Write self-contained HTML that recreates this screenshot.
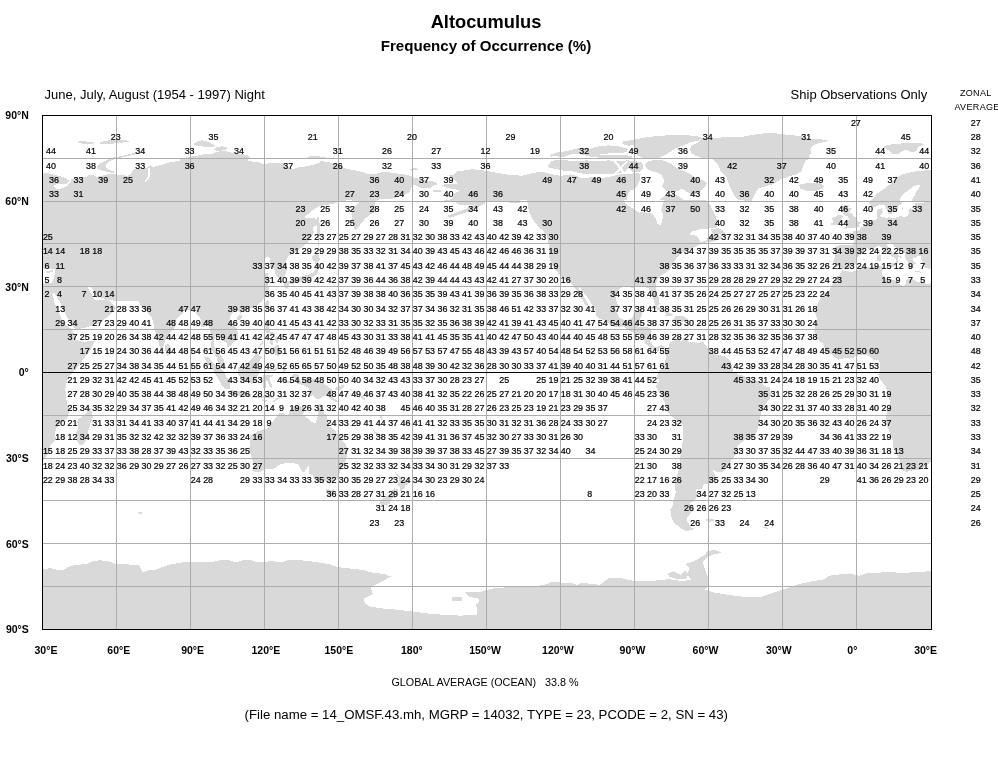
<!DOCTYPE html>
<html><head><meta charset="utf-8"><title>Altocumulus</title>
<style>
html,body{margin:0;padding:0;background:#fff}
body{filter:grayscale(1);width:998px;height:760px;position:relative;overflow:hidden;font-family:"Liberation Sans",sans-serif;color:#000}
div{position:absolute;white-space:nowrap;line-height:1}
.ax{font-weight:bold;font-size:10.5px}
.t1{font-weight:bold;font-size:18.3px;left:0;width:972px;text-align:center;top:13.3px}
.t2{font-weight:bold;font-size:15.1px;left:0;width:972px;text-align:center;top:38.3px}
.s{font-size:13px}
.z{font-size:9px;width:60px;text-align:center;left:945.4px}
</style></head><body>
<svg width="998" height="760" viewBox="0 0 998 760" style="position:absolute;left:0;top:0"><path d="M42.6 461.6L46.3 456.7L49.5 451L50 445.3L56.2 439.6L54.9 433.9L56.2 428.2L61.1 422.5L67.3 418.2L69 412.5L68.6 406.1L67.4 406.1L66.7 401L66 395.4L65.3 389.8L66 384.2L68.1 378.6L70.9 374.3L75.1 370.1L79.3 364.5L83.5 358.9L89.1 351.9L93.3 344.9L95.4 340.4L89.1 341.4L82.1 341.8L76.5 340L74.4 335.1L72.5 330.6L70.2 328.1L63.8 324L58.2 311.2L53.3 300L54.5 300L52.1 294.5L51.9 293.8L54.7 293.1L58.2 299.4L58.4 300L58.9 300L64.5 311.9L70.9 324L75.8 329.7L79.3 328.8L86.3 327.4L93.3 325.3L100.3 322.4L105.9 318.2L110.1 314L114.3 310.5L116.5 307.7L112.9 304.2L108.7 300L107.4 300L107.1 299.1L110.1 300L112.9 300L112.9 300.7L138.2 300.7L138.2 300L141 305.6L146.6 311.2L152.2 318.2L153.6 324L153.6 328.8L154.8 328.8L155.7 332.3L157.8 339.3L159.5 346.3L160.4 349.8L162.7 348.4L164.8 342.1L167 336.5L170.5 332.3L174.7 328.1L175 327.8L175 321.2L175.8 320.2L179.5 316.2L182.7 313.4L183.2 311.1L185.7 310.8L190.6 309.7L194.3 308.2L196.3 313.4L199.7 316.8L201.7 322.5L201.2 326.8L204.2 327.4L207.9 324.5L209.6 328.2L210.8 333.9L211.8 339.7L211.1 345.4L211.1 349.7L214 353.1L216.3 356.8L218.5 363.9L221.4 366.8L223.9 368.5L225.6 368.2L223.9 363.9L223.7 359.6L220.9 354.8L217.7 352.8L216 348.2L213.5 345.9L214 341.1L215.3 335.9L216.7 333.9L217.7 336.2L220.9 337.7L222.7 341.1L226.4 342.5L227.6 346.8L227.8 347.9L231.8 344.5L233 342.5L237.5 339.7L238.2 335.4L237.2 328.8L233.8 324.8L231.3 321.7L229.6 318.2L231.8 313.4L235 310.8L239.2 311.1L240.7 314.5L241.2 311.7L244.9 310.2L248.6 308.8L252.3 307.7L257.2 305.4L261.4 301.7L263.9 298.3L264.9 296L265.1 296L267.7 293.8L268.7 289.6L269 289.1L268.9 288.7L269.1 288.1L268.8 288L268.3 286L268.3 272.6L264.3 272.6L263.9 265.7L264.9 258L267.7 256.6L269.8 258L270 258L270 267.2L274.2 268.6L275.6 274.2L278.4 278.4L282.6 277.7L285.7 274.2L287.1 268.6L285.7 261.5L288.2 256.2L292.4 253.4L298.1 250.3L303.7 246.1L308.2 241.9L311 237.7L313.8 232.1L312.8 226.8L316.3 225.8L317.4 223.4L317.4 232.1L317.7 246.1L319.1 246.1L319.7 232.1L319.4 217.4L317.4 217.4L317.4 221.1L316.3 218.8L310.7 217.8L304.8 218.1L305.1 216L309.3 213.1L313.5 209.6L317.7 206.8L323.3 205.4L331.7 204L338.7 202.1L342.9 200.9L348.6 200.1L359.8 201.5L354.2 206.8L351.4 213.8L352.1 220.9L353.9 227.9L355.3 230L356.7 229L361.2 223.7L365.4 218.1L371 214.1L376.6 211L374.5 201.9L378.9 199.3L390.2 199L401.3 196.2L410 192L410 191.3L411.2 187.8L412.6 184.9L416.8 185.6L421 188.5L428 187.8L428.3 187.6L430.5 188.1L432.3 186L437.5 184.2L436.9 183.6L437.1 183.5L436.6 183.4L435.1 182.1L430.5 181L428.7 181.3L426.6 180.7L421 179.3L415.4 177.9L409.8 175.8L404.2 174.4L398.6 173.7L392.9 173L387.3 172L381.7 172.3L376.1 173.7L367.7 173.7L362.1 172L355.1 170.2L348.1 169.2L342.4 167.4L338.2 165.3L331.2 162.8L325.6 161.8L320 160.8L320 162.8L316.1 163.9L311.9 165L307.7 166L302 167L296.4 167.8L293.6 169.2L290.8 168.1L286.6 165.3L281 162.8L275.4 162.5L269.8 163.2L264.2 164.2L258.6 162.5L252.9 161.8L247.3 160.4L250.1 158.3L249.4 156.2L245.9 154.8L240.3 154.1L233.3 153.4L227.7 151.6L222.1 151L216.5 152L212.3 153.8L205.3 154.1L198.2 155.5L191.2 156.6L185.6 157.6L180 158.6L180 161.1L171.9 161.8L167 163.2L162 165L156.4 166L153.6 167.4L150.8 165.3L148.7 166L146.6 167.8L141 168.8L136.8 168.1L133.3 170.2L131.2 173.7L127 175.8L121.4 175.1L116.5 174.4L112.9 173.7L107.3 174.4L101.7 175.8L96.1 176.8L93.3 175.1L88.4 174.8L86.3 176.8L82.1 177.2L76.5 177.9L71.6 179.1L68.1 180.7L65.3 177.9L59.6 176.2L54 174.8L48.4 173.4L42.5 172.9L42.5 269.2L48.4 269.2L55.4 268.5L54.7 274.1L53.3 279.7L51.2 283.2L48.3 283.4L48.3 283.4L45.1 282.5L42.5 283.3L42.5 461.7ZM103.1 298L105.8 300L94.4 300L94 299.4L91.2 293.8L87.7 287.4L90.5 287L94 290.9L96.1 296.6ZM150.3 173.7L149.4 177.9L146.6 181.4L144.1 182.4L147.3 177.9L148.3 173.7L148 168.1L149.7 168.1ZM66.9 186.3L61 188.5L56.8 189.2L54 187.1L54.7 184.9L59.6 183.8L66 184.2L68.8 181.4L71.6 179.6L70.2 182.1ZM880.5 363.9L880 369.6L878.3 374.5L880 379.6L885 385.4L887 389.6L889.2 398.2L890.4 405.3L887.4 411.1L885.7 418.2L886.2 423.9L889.9 432.5L892.4 439.6L893.6 448.2L896.6 453.9L899.3 459.6L901 465.3L902.2 470.2L905.9 471.9L913.3 470.2L920 469.6L925.7 466.7L930.6 461.6L931.5 460.4L931.5 283L928.1 284L920.7 282.5L915.8 281.1L910.9 278.6L905.9 279.7L905.9 284L903.5 286L898.5 284L894.4 280.3L888.7 278.6L885 277.7L882.5 275.4L881.8 271.1L883.7 267.4L881.3 266L873.9 266.8L864 267.4L856.6 270.3L851.7 272L842.1 270.3L839.8 274.8L835.6 277.4L832.7 282.5L831.9 286.8L828.2 291.1L824.5 293.4L820.1 298.3L817.1 305.4L814.7 312.5L817.1 318.2L815.9 325.4L813.7 330.5L815.2 332.5L815.4 336.8L819.6 341.1L823.3 343.9L824.5 348.2L828.2 352.5L833.2 355.4L838.1 359.9L845.5 357.7L851.7 358.5L856.6 355.9L861.5 354.5L867.2 354.5L870.2 356.8L873.9 359.9L878.8 360.5ZM654.3 308.5L658 309.7L663 311.1L666.2 313.7L664.9 316L671.6 315.7L673.6 314.8L670.4 313.4L666.7 310.8L661.7 308.5L656.8 306.3L651.9 306.8L647.2 310L650.6 309.1ZM681.5 322L685.2 320.2L687.9 319.4L684.2 316.5L679.7 316L675.8 315.7L673.1 320L675.3 320.5L679 320.5ZM694.3 321.1L694.5 320L690.8 319.7L690.8 321.1ZM668.4 320.5L663.5 320L663.7 321.1L667.9 321.4ZM651.9 343.9L650.1 341.1L650.6 335.4L651.1 329.7L648.2 327.4L644.5 327.1L639.5 327.4L637.6 326.8L638.8 322.5L640 320.2L640.8 316.8L642.5 314L642 311.1L638.3 311.1L633.9 312.5L633.4 314L632.1 318.2L629.7 319.4L624.7 320.5L622.3 319.4L619.1 317.4L616.6 312.5L615.4 308.2L615.6 306.1L618.2 306.1L616.8 302.4L615.4 296.8L616.8 291.2L621 287.7L626.6 286.3L632.2 287.7L639.2 286.7L640 286.8L640 287L648.4 287.7L650.5 292.6L652.9 298.2L654.7 303.1L655.7 306.1L658 306.1L659.6 303.8L658.9 298.2L656.8 292.6L655.4 287L655.7 284.2L657.5 279.3L661 275.8L665.3 272.9L669.5 270.1L672.3 264.5L675.1 260.3L677.9 256.1L682.1 253.3L686.3 250.5L691.9 248.4L696.1 246.3L701.7 243.5L707.3 242.1L710.1 242.1L715.8 240.7L722.1 238.6L720.7 235.8L714.3 235.1L708 236.8L705.9 240.7L700.3 242.1L698.9 237.9L694.7 235.1L689.1 234.4L691.9 231.6L698.9 229.5L707.3 228.8L716.5 227.4L717.9 222.4L715.8 216.8L712.9 211.2L710.1 204.2L705.9 200L683.4 200L683 199.7L678.6 196.2L672.9 194.1L665.9 194.8L660.3 199L660 200L660 200L663.8 200L662.4 205.6L661 210.5L663.1 213.3L662.4 219.6L661 225.3L657.5 223.8L655.4 218.2L652.6 214L647 212.6L640 211.9L640 212.9L639.2 212.9L626.6 204.2L623.8 200L626.4 200L628.1 193.4L630.2 190.6L635.1 188.5L637.9 184.9L640 179.3L640.7 173.7L635.1 173L628.8 174.4L619.6 174.4L614 175.8L608.4 177.2L600 177.9L591.9 177.2L586.3 177.9L580.6 177.9L576.4 175.8L570.8 174.4L566.6 175.1L561 175.8L555.4 175.1L549.8 173.7L544.2 172.3L538.6 172L532.9 173L527.3 174.4L521.7 175.8L516.1 175.1L509.1 174.8L502.1 173.7L495.1 172.6L486.7 170.9L478.2 169.8L472.6 169.2L465.6 170.2L460 171.6L460 205L474 204.6L476.3 204.1L467 208.5L447 216L449 218L470 211L486 203L484.5 202L488.1 201.8L509.1 202.5L520 203.1L520 200L527 200L528.4 208.4L529.8 214L534 221L538.2 226.7L542.4 230.2L546.7 235.1L548.1 242.1L549.5 247.7L548.8 254.7L550.2 260.3L553.7 267.3L557.9 272.9L560.7 276.5L566.3 280.7L571.9 283.9L576.1 289.8L580.3 296.8L584.5 303.8L585.9 306.1L588.7 306.1L587.3 302.4L583.1 295.4L578.9 288.7L577.8 285.3L581.7 289.8L585.9 295.4L590.1 301L592.9 306.1L593.3 306.1L596.4 311.1L596.4 315.4L598.8 318.2L605 321.1L609.9 324L614.9 326.8L619.8 327.7L623.5 326.2L627.2 329.7L629.7 331.1L634.6 333.4L639.5 334.8L640.8 335.7L644.5 339.7L645.2 343.9L647.4 344.8L650.1 347.7L651.9 349.1L655.6 351.1L658 351.7L659.3 348.8L660.5 346.8L663 349.1L665.4 351.1L665.9 348.2L664.2 346.8L661.7 345.4L659.8 345.4L656.8 347.4L653.6 346.2ZM84.5 415.3L79.6 418.2L77.1 421L78.4 428.2L75.4 433.9L76.4 439.6L79.6 445.3L83.3 444.5L85.8 441L88.2 431L90.7 422.5L93.2 416.8L90.2 406.8L88.2 410.2ZM679 469.6L677 475.3L675.3 481L674.8 486.7L675.8 492.4L674.1 498.1L672.8 505.3L670.4 509.6L670.9 515.3L672.8 521L676.5 524.7L680.2 527.6L683.9 530.4L687.6 530.7L692.6 529.8L695.8 528.7L691.3 528.1L688.4 523.3L687.6 521.8L686.4 518.1L688.9 515.3L692.6 511L694.3 508.1L690.1 505.3L690.6 502.4L695 501L696.3 496.7L699.5 493.9L696.3 492.4L696.3 489L698.7 489.6L702.9 488.2L703.7 483.6L708.6 483.6L713.5 482.4L716 479.6L715.3 475.3L712.6 469.6L714.8 471L718.5 472.2L722.2 471.9L724.6 469.6L727.1 466.7L729.6 463L732.8 458.7L735.7 454.7L736.7 451L737 446.2L740.7 442.7L744.4 440.5L748.1 438.7L753 438.2L755.5 434.8L757.4 429.6L758.7 425.3L760.4 421L760.4 415.3L761.6 409.6L764.1 406.8L766.6 402.5L769.5 399.1L770.8 395.3L770.3 391.1L769.5 387.3L765.3 386.2L761.6 383.1L757.9 380.5L753 380.5L748.1 380.2L746.8 378.2L743.1 375.4L738.2 374.5L737 373.4L733.3 373.1L733.3 371.1L732 366.8L730.3 360.5L728.3 358.8L724.6 356.5L720.9 355.4L716 355.4L713.5 353.1L711.1 349.7L707.4 348.2L706.1 345.4L704.2 343.9L703.7 342.2L701.2 341.9L697.5 343.4L693.8 342.2L688.9 342.2L687.6 340.2L683.9 337.9L682.7 339.7L680.2 341.7L679.7 339.7L680.7 337.1L678.5 338.2L675.3 340.2L672.1 341.1L670.4 342.5L668.4 346.8L667.2 349.7L665.4 351.1L665.4 353.9L665.9 356.8L665.4 361.1L665.4 364.5L663 366.8L661.7 369.1L659.3 370.2L658.8 372.5L657.1 375.4L657.3 378.8L659.3 379.6L658.5 382.2L656.1 385.4L656.8 389.6L659.8 393.1L661.7 395.9L664.2 401.6L666.7 407.6L668.4 412.5L671.6 416.5L676.5 419.9L680.7 423L683.2 425.3L683.4 432.5L683 439.6L682 446.7L680.7 452.5L680.2 458.2L680.2 463.9ZM142 514.4L142.5 512.4L138.3 511.9L138.8 514.1ZM706.1 521L709.8 521.8L714 520.4L713.5 519L706.1 519ZM767.8 527.6L762.9 526.7L762.9 527.8L767.8 529ZM124.2 140.1L116.5 139.8L111.5 140.1L105.9 140.8L99.6 142.2L100.3 143.6L105.9 144.5L112.9 143.6L121.4 142.6L128.4 142.2L129.1 140.8ZM94 142.2L87.7 141.7L82.1 141.2L77.2 141.7L77.9 142.9L82.1 143.6L87.7 144L93.3 143.6ZM115.1 172L110.8 170.6L107.3 168.8L105.9 166.7L106.6 163.9L109.4 161.4L112.9 159.7L118.6 158.3L124.2 156.9L131.2 155.2L138.2 153.8L138.2 152.7L134 153.1L127 154.8L118.6 156.6L112.9 157.6L107.3 159.7L102.4 162.2L98.9 164.2L96.8 166.7L97.5 168.8L100.3 170.2L105.9 171.6L112.9 173ZM196.8 141.5L193.3 144.3L196.8 145.9L202.4 146.4L208.1 147.1L213 147.1L215.1 145.4L212.3 144L208.1 141.7L202.4 140.3ZM217.9 151.6L223.5 150.2L227.7 149.2L227 147.4L222.1 146.4L216.8 147.1L213.7 149.6ZM320 159L320 158.6L326.3 158L325.6 156.6L320 156.9L320 155.5L311.9 155.8L307 157.2L309.1 158.6L314.7 159ZM416.8 168.1L409.8 168.8L411.2 170.6L418.2 169.8ZM438.2 192.3L439.3 191.7L440.9 191.7L440.6 190.3L434.3 190.5L432.3 190.3L432.7 190.5L432.2 190.6L432.9 192L436.1 191.8ZM582 147.9L575 148.8L566.6 151.3L558.2 152L549.8 154.8L551.2 156.6L556.8 156.2L561 157.6L566.6 156.2L572.2 154.1L580.6 154.1L586.3 155.5L591.9 157.2L600 157.6L600 158.6L628.1 158.6L633.7 156.9L628.1 155.5L614 154.8L600 155.5L600 154.1L614 153L626 152.4L628.1 148.8L616.8 145.9L608.4 145.4L600 146.4L600 145.7L590.5 148.8ZM628.1 160.4L616.8 161.1L608.4 160.4L600 161.1L586.3 160.4L575 161.1L566.6 160.4L558.2 159.7L551.2 161.1L547.7 166.7L549.8 168.1L555.4 168.8L561 170.2L568 171.6L570.8 170.9L576.4 172.3L583.4 173.7L591.9 174.4L600 173.7L608.4 173.7L614 173.7L619 168.4L613.3 161.1L616.1 161.1L620.6 166.8L626 161.1L628.1 161.1L621.7 168.3L624.4 171.8L628.1 168.1L632.3 171.6L639.3 172.3L643.5 168.1L642.1 162.5L635.1 161.1ZM459.3 204.9L460 205L460 170.5L457.2 171.2L454.4 174L453.3 175.2L447.7 175.6L450.9 177.2L453.3 178.4L456.5 182.4L457.2 184L453 184.5L444.5 184.3L442.1 185.4L446 187.7L452.3 189.1L458.6 189.8L459.4 190.9L455.1 193L453.7 195.1L453 197.9L450.9 199.4L443.8 200.3L443.1 201L451.6 201.5L455.1 202.1L457.2 203.5ZM634.7 143.5L633.7 140.1L623.1 141L622.4 143.7L628.1 145.9L634.7 144.6L634.4 148.5L636.5 154.1L640.7 157.2L646.3 158.3L653.3 159L658.9 158L664.5 155.5L670.1 152L675.8 148.2L684.2 145L691.2 141.9L698.2 140.8L702.4 138L698.2 136.5L687 135.1L672.9 135.1L658.9 135.8L646.3 137.3L635.1 139.4ZM622.3 172.6L620.2 169.9L616.8 173.7ZM758.2 188.5L765.3 186.3L770.9 184.9L776.5 182.1L780.7 179.3L784.9 177.9L790.5 175.8L796.1 174.4L801.7 170.9L803.1 165.3L805.9 160.4L810.1 158.3L808.7 155.5L811.5 152.7L810.1 149.2L812.9 145.7L818.6 143.1L825.6 141.7L828.4 140.1L821.4 139.4L812.9 139.4L807.3 138L798.9 135.8L790.5 135.1L782.1 134.2L773.7 133L765.3 133.3L756.8 134.2L748.4 135.6L740 137.3L731.9 137L722 137.3L712.2 138.7L702.4 138L698.2 142.2L692.6 145L689.8 148.5L691.2 152.7L695.4 155.5L701 157.6L706.6 158.3L712.2 159L717.8 163.9L720.6 170.9L723.4 173.7L727 177.9L729.1 184.9L731.9 190.6L734.7 196.2L738.2 199.7L738.5 200L743.8 200L745.2 201.4L750.8 201.4L752.2 200L751.3 200L752.6 199L755.4 193.4ZM648.4 161.1L644.9 164.2L646.3 168.1L650.5 170.9L656.1 172.3L661.7 175.1L664.5 180.7L661.7 186.3L665.9 190.6L672.9 192.7L678.6 190.6L681.4 188.5L687 192L692.6 194.8L698.2 192.7L703.8 187.8L706.9 183.8L705.2 181.4L698.2 178.6L692.6 175.8L687 172.3L681.4 170.2L675.8 167.4L670.1 163.2L663.1 160.4L656.1 159.7ZM812.9 191.3L820 189.9L824.2 186.3L821.4 183.5L812.9 182.8L804.5 183.5L798.9 184.9L800.3 188.5L805.9 190.6ZM911 152.4L916.6 151L918 146.8L924.3 144.7L922.2 143.3L913.8 143.3L905.4 142.9L897 144L888.6 144.7L882.9 146.8L888.6 150.3L892.8 153.8L897 154.5L902.6 151L906.8 149.6ZM902.6 194.5L908.2 190.3L913.8 186.1L919.4 184.7L920.5 186.4L916.3 191L914.4 195.9L911.6 199.9L912.4 201.8L916.6 202.2L923.6 201.5L931.5 200.9L931.5 170L922.2 170.7L915.2 171.4L908.2 172.8L901.2 174.9L897 177.7L892.8 181.9L888.6 185.4L884.3 188.9L880.1 191.7L875.9 194.5L873.1 198.7L870.7 201.2L869.4 201.2L868.9 204L869.8 204.6L869.7 205L870.4 205L872.6 206.6L875.1 206.9L877.6 206L879 205L884.6 205L885.7 206.9L886.7 209.7L887.9 212L888.4 214L889.4 214.3L891.9 214L892.4 212.6L895.6 212.3L897.1 210.6L897.8 208.3L898.1 206.3L899.4 205L900.5 205L900.8 204L902.2 203.2L903 201.2L900.6 201.2L899.8 198.7ZM47.7 273L52.6 272L53.3 270.2L46.3 271.3ZM319.1 255.2L316.3 253.8L312.1 255.9L312.8 260.8L317 262.2L319.8 259.4ZM288.9 281.2L284 281.9L283.7 286.1L286.1 288.9L289.6 286.8L289.3 284L289.6 284.3L295.3 283.3L300.9 281.9L306.5 279.8L312.1 277.7L317 274.2L319.1 268.6L318.4 262.9L314.9 262.2L316.3 265.8L314.9 271.1L310.7 273.9L305.1 275.6L298.1 277.7L292.4 279.8L289.1 282.1ZM724.2 231.1L718.6 228.1L710.8 229.5L712.9 233.7L718.6 233.7L722.1 236.2L725.9 235.8ZM167.2 355.7L169.9 354.5L170.1 353.6L170.5 353.3L171.2 347.7L168.4 343.5L165.6 344.2L165.6 344.8L165.4 344.8L165.4 349.1L165.7 353.1ZM242.4 316.8L242.2 315.4L238.7 315.4L236.7 317.4L237.5 320L239.9 320ZM197 339.7L198 339.7L198 333.9L197.3 333.9ZM262.9 343.4L263.4 340.2L257.7 348.5L258.4 349.1ZM258.4 374.8L259.2 370.8L261.6 369.6L258.9 364.5L259.7 360.2L262.6 357.4L259.7 355.9L257.2 352.5L254.7 355.4L251 359.1L247.3 363.4L243.1 365.4L238.9 366.8L237.5 368.2L237.5 373.4L239.9 376.5L240.4 380.5L244.1 381.9L247.3 381.9L251.5 383.9L255.5 382.5L256 377.6ZM230.1 381.1L226.4 376.8L223.9 371.1L219.7 367.6L216.3 365.9L212.1 361.6L209.1 357.7L203.7 356.5L206.6 361.9L212.1 367.6L214.8 372.5L216.3 375.4L219 380.2L220.9 383.9L225.9 389.1L229.6 389.1ZM231.3 389.6L228.1 391.9L231.1 393.6L236.2 394.8L242.4 396.2L250.8 397.3L251 394.5L246.6 392.2L241.7 390.8L236.2 391.3ZM252.3 397.6L257.2 398.2L264.6 397.9L272 397.6L272 395.9L267.1 396.5L262.1 396.2L257.2 395.9L252.3 395.6ZM265.8 401.9L266.6 400.5L262.1 399.3L262.1 400.5ZM266.6 310L268.1 306.8L269.5 301.1L267.1 300.3L265.3 303.1L264.8 306.8ZM268.5 327.4L270.3 324L270 320L265.8 319.7L264.4 326L265.3 330.2L266.3 332.8L268.8 333.1L271 333.7L274.5 336.5L274.5 332.8L270 332ZM278.2 337.7L275.2 336.8L275.5 341.1L276.9 343.9L278.7 341.1ZM273.2 343.9L272.5 339.7L269.5 338.8L269.5 342.5L270.8 344.5L272 346.2ZM270 352.8L274.5 350.8L274.5 353.9L277.9 356.5L279.9 354.5L280.4 349.7L278.2 344.5L272.7 347.7L269.5 349.7ZM283.1 372.5L284.3 374.8L284.8 371.6L286.1 369.6L284.3 366.2L283.1 366.8L283.3 369.6ZM268.3 383.9L269.5 385.9L271.3 388.2L272.5 385.4L270.3 381.6L269 377.9L272.7 375.9L272.7 375.1L268.3 375.4L265.3 375.4L264.6 372.5L266.6 371.1L268.3 371.1L274.5 371.4L277.4 369.1L276.9 367.9L272 369.9L267.1 368.8L264.6 368.8L264.1 372.5L262.9 376.8L261.6 380.5L263.4 382.5L263.4 388.2L265.6 388.5L265.6 382.5L267.1 380.2ZM284.3 382.8L291.2 383.4L291.2 381.1L284.3 381.1ZM310.2 392.5L309 396.2L312.7 395.3L316.4 398.5L320.1 398.8L322.6 396.8L326.3 395.3L331.2 399.6L336.1 401.9L339.8 401.9L333.7 398.2L330 394.8L333.2 392.5L332.4 389.6L328.2 386.8L323.8 383.4L318.9 381.1L313.9 379.1L309 377.1L305.3 378.8L301.6 381.9L299.6 379.6L299.1 374.8L295.4 373.6L291.7 374.8L291.7 376.5L294.2 378.2L297.9 379.1L294.2 380.5L296.2 381.9L296.7 383.9L299.1 383.9L304.1 385.6L309 388.2ZM281.9 396.2L275.7 398.8L273.2 401.9L274.5 401.9L276.9 400.2L282.4 397.3ZM334.9 389.6L339.8 390.2L344.3 386.8L343.5 384.5L338.6 386.8L334.4 388.2ZM352.9 391.1L350.2 388.2L350 389.6L352.2 392.2ZM365.2 398.2L360.8 395.3L362 399.1L365.2 400.5ZM379.3 414.8L381 419.6L382.5 419.6L381.3 415.3ZM405.9 422.2L405.9 424.2L408.9 424.5L409.2 422.5ZM379.3 436.5L380.5 436.2L376.8 432.5L373.1 429.9L374.4 433.3ZM260.9 471.9L264.6 469.3L273.2 469.3L279.4 464.7L286.8 462.7L292.2 462.5L297.9 464.5L302.1 471.3L304.1 472.4L307.8 466.7L308.8 465.3L308.5 469.6L309.5 473.9L312.7 475.3L315.2 481L320.1 482.4L325 481L329.5 483.9L333.7 480.7L338.6 479L339.1 473.9L341.8 468.2L344.8 463.9L346.3 458.2L347.2 452.5L346.3 445.3L342.3 441L340.3 436.8L336.9 433.3L334.2 429.6L329.5 426.8L328.7 422.5L327.3 418.2L327 414.8L323.8 413.3L322.6 408.2L320.4 403.3L318.9 405.3L318.1 409.6L317.9 415.3L315.9 422.5L312.7 422.5L309 419.6L305.3 416.8L302.8 414.8L304.1 411.1L306 407.3L302.8 406.8L297.9 405.9L295.4 405.1L291.7 407.3L290 409.6L288.3 414.8L285.6 414.8L283.1 412.5L279.9 412.5L276.9 416.8L274.5 419L273.2 421.9L270 421.6L269.5 425.3L267.1 428.5L262.1 429.6L257.2 431.6L253.5 433.9L249.8 435.3L250.3 446.7L248.6 448.2L252.3 459.6L254 463.9L252.3 470.4L256 472.4ZM399.5 490.4L401 491.3L404.5 488.2L405.2 485.6L407.7 483.9L408.9 480.2L406.4 480.4L402.7 479.9L401.5 477.3L399 475.9L396.6 473L394.6 470.7L395.3 473L397.8 476.2L399.5 479L399.3 482.4L397.3 484.7L400.3 487.3ZM326.8 493.9L328.7 496.7L332.4 496.4L334.4 493L334.2 489.3L330 489.9L325.5 488.7ZM386.7 505.6L389.9 503.3L391.1 499L394.8 497.6L395.3 495.3L398.3 491.9L398.3 489.6L394.6 488.2L392.9 489L391.1 491.9L387.9 495.3L383.7 498.1L380.5 501L379.3 503.9L383.7 505.3ZM669 576.4L675.9 578.7L686.3 578.7L688 575.5L690.9 579.6L682.8 581L675.9 580.3L669 579.2L659.8 580.3L645.9 581L634.4 581L627.5 579.6L620.6 578L609.1 578L605.6 580.3L599.8 584.9L590.6 583.8L581.4 582.6L576.8 584.9L569.9 582.6L560.7 582.6L551.4 581.5L546.8 584.2L537.6 586.1L521.5 585.6L510 587.2L496.1 587.9L489.2 589.5L480 591.9L479.9 592.4L476.6 591.9L465.1 592.5L468.6 596.5L478.9 598.8L479 598.8L478.2 604.1L475.5 604.5L477.5 608.9L476.6 614.9L460.5 615.6L444.4 614.9L425.9 613.3L412.1 611.4L398.3 609.8L384.4 608.7L370.6 606.8L364.9 603.4L363.7 598.8L372.9 594.2L370.6 587.2L377.5 583.8L384.4 580.3L390.9 576.4L384.4 574.1L370.6 572.3L363.7 570L352.2 568.8L338.4 567.2L329.1 564.2L315.3 561.9L301.5 560.3L287.7 560.3L283 561.9L269.2 561.2L262.7 562.5L256.6 561.9L249.7 559.6L242.8 560.3L235.9 562.4L229 560.3L219.8 560.3L212.8 561.9L201.3 562.1L182.9 562.4L171.4 564.2L162.1 567.2L155.2 570L148.3 570.4L142.6 572.3L139.1 565.4L125.3 564.2L116.1 564.2L108 561.2L99.9 560.3L93 561.2L86.1 564.2L74.6 564.9L67.7 567.2L63 570.4L56.1 569.5L50.4 568.1L42.5 569.5L42.5 629.5L931.5 629.5L931.5 571.2L921.2 571.8L907.4 572.7L884.4 572.3L865.9 573.4L859 575.7L849.8 573.4L838.3 574.6L829.1 575.7L824.4 579.2L810.6 581.5L796.8 584.9L783 589.5L769.1 594.2L762.2 596.5L741.5 596.5L727.7 594.8L713.8 592.5L704.6 589.5L708.1 586.1L709.2 580.3L705.8 572.3L702.3 561.9L706.9 557.3L713.8 554.3L721.9 552.7L713.8 549.7L706.9 551.5L704.7 555L698.9 558.4L692 561.9L685.1 564.2L689.7 567.7L687.8 573.5L685.1 570L680.5 574.6L673.6 571.1L667.8 573.4ZM263.5 562.6L260 563L262.7 562.5ZM461.7 601.1L461.7 597.2L452.4 597.2L452.4 601.1ZM860.1 226.3L858.6 225.4L860.8 222.3L857.4 221.2L856.6 219.4L856.1 217.7L853.4 216L852.7 214L851.2 212.6L849.2 212.6L850.4 211.2L851.7 208.3L848 207.7L846.7 207.4L849.2 205.2L844.3 205.2L842.3 207.4L842.8 209.7L841.3 211.2L843 212.6L843.8 214.9L844.8 215.7L848 215.7L848.7 218.3L849.2 220L845.5 220.3L845.5 221.7L846.5 222.6L843.8 224.3L846.3 225.2L849.2 225.7L848 226.3L845.5 226.6L843.8 228.6L842.6 229.4L846.7 228.9L849.2 227.7L854.1 227.7L857.4 227.4ZM842.8 216.9L841.3 214.9L838.1 214.6L835.6 216.6L831.9 217.7L832.4 220L833.9 220.9L832.9 222.3L831 223.7L831.9 225.2L835.6 225.2L840.8 223.4L841.8 221.2L841.3 218.9ZM834.9 262.6L834.7 266.8L838.1 266.3L840.6 266.8L841.1 268L843.3 269.4L845.8 267.7L851.2 267.4L852.4 265.7L854.9 265.1L856.6 262L855.9 259.7L857.4 257.4L858.8 255.4L862 254.3L864.5 252.9L864.3 251.1L864.3 249.1L866.5 248.3L868.9 248.6L871.9 249.4L875.1 247.4L878.3 245.7L881.3 246.9L882.5 249.7L884 251.4L886.7 253.4L889.9 254.8L892.4 256.6L895.1 258.3L896.1 261.1L895.3 264L897.3 263.1L898.5 261.1L897.3 259.1L898.5 256.8L901.8 258.6L902.2 257.4L899.8 255.7L896.1 254L896.1 252.9L893.6 252.6L891.1 250.6L890.2 248.3L887.4 246.3L887 243.1L890.4 242L890.2 244L892.4 243.4L894.1 246.3L897.3 248.3L900 250L902.2 251.4L904.5 253.1L904.5 256.8L905.9 259.1L907.9 261.7L908.9 263.1L910.1 267.4L912.1 268.3L913.8 268.3L913.3 265.7L914.6 264L916.1 263.4L913.3 261.1L912.9 257.1L915.3 258.3L916.8 256.3L920.7 256L921.2 257.4L921.2 259.7L922.7 261.7L922 263.1L924 265.4L924.2 267.4L926.4 267.7L929.4 269.1L931.5 267.8L931.5 201.6L925.7 202.3L923.2 202.6L918.3 202.6L914.6 203.4L914.6 205.2L916.8 206L916.6 209.2L913.8 209.7L910.1 208L908.4 209.7L908.7 212.6L908.4 215.4L905.2 217.2L902.7 217.2L901 216L896.1 217.4L891.9 218.6L889.9 217.2L886.2 217.7L883.7 217.2L881.3 216.9L880.3 215.4L881.3 214L883.3 212L882 210.6L882.5 207.7L880 209.2L877.1 209.7L876.8 211.2L877.1 215.4L877.8 217.4L876.8 219.4L873.9 219.7L870.2 220L868.2 221.2L867 224L865.2 225.7L862.8 226.6L860.6 227.1L860.3 229.4L857.1 231.1L853.7 231.4L852.7 230.9L852.7 233.4L848 233.1L845 234.3L846 236L849.7 236.9L851.4 238.3L853.7 240.6L853.9 242.3L853.4 244L852.2 245.4L847.2 245.1L842.3 245.1L836.9 245.7L833.9 249.1L834.7 251.1L835.2 254L834.7 257.7L833.4 261.7ZM880 254.3L880 249.7L877.8 250L878.1 253.7ZM877.3 256.8L877.3 261.1L880.5 260.6L880.5 254.8L876.8 254.8ZM862.5 260L864.8 260.3L864.8 258.6L862.5 258.6ZM903 209.7L903.5 207.2L901.8 207.2L901.5 209.7ZM887.4 265.1L894.1 267.7L895.1 263.1L887.4 263.7ZM921.2 272.6L921.5 271.7L914.6 270.8L914.6 272Z" fill="#d9d9d9" fill-rule="evenodd" shape-rendering="crispEdges"/><path d="M116.5 115.5V629.5M190.5 115.5V629.5M264.5 115.5V629.5M338.5 115.5V629.5M412.5 115.5V629.5M486.5 115.5V629.5M560.5 115.5V629.5M634.5 115.5V629.5M708.5 115.5V629.5M782.5 115.5V629.5M856.5 115.5V629.5M42.5 158.5H931.5M42.5 201.5H931.5M42.5 243.5H931.5M42.5 286.5H931.5M42.5 329.5H931.5M42.5 415.5H931.5M42.5 458.5H931.5M42.5 500.5H931.5M42.5 543.5H931.5M42.5 586.5H931.5" stroke="#adadad" stroke-width="1" fill="none" shape-rendering="crispEdges"/><path d="M42.5 372.5H931.5" stroke="#000" stroke-width="1" shape-rendering="crispEdges"/><rect x="42.5" y="115.5" width="889.0" height="514.0" fill="none" stroke="#000" stroke-width="1" shape-rendering="crispEdges"/><g transform="scale(0.92 1)" font-family="Liberation Sans, sans-serif" font-size="9.7" text-anchor="middle" fill="#000" stroke="#000" stroke-width="0.22"><text x="52" y="240.2">25</text><text x="333.5" y="240.2">22</text><text x="346.9" y="240.2">23</text><text x="360.3" y="240.2">27</text><text x="373.7" y="240.2">25</text><text x="387.1" y="240.2">27</text><text x="400.5" y="240.2">29</text><text x="413.9" y="240.2">27</text><text x="427.3" y="240.2">28</text><text x="440.7" y="240.2">31</text><text x="454.1" y="240.2">32</text><text x="467.5" y="240.2">30</text><text x="480.9" y="240.2">38</text><text x="494.3" y="240.2">33</text><text x="507.7" y="240.2">42</text><text x="521.1" y="240.2">43</text><text x="534.6" y="240.2">40</text><text x="548" y="240.2">42</text><text x="561.4" y="240.2">39</text><text x="574.8" y="240.2">42</text><text x="588.2" y="240.2">33</text><text x="601.6" y="240.2">30</text><text x="775.8" y="240.2">42</text><text x="789.3" y="240.2">37</text><text x="802.7" y="240.2">32</text><text x="816.1" y="240.2">31</text><text x="829.5" y="240.2">34</text><text x="842.9" y="240.2">35</text><text x="856.3" y="240.2">38</text><text x="869.7" y="240.2">40</text><text x="883.1" y="240.2">37</text><text x="896.5" y="240.2">40</text><text x="909.9" y="240.2">40</text><text x="923.3" y="240.2">39</text><text x="936.7" y="240.2">38</text><text x="963.5" y="240.2">39</text><text x="52" y="254.5">14</text><text x="65.4" y="254.5">14</text><text x="92.2" y="254.5">18</text><text x="105.6" y="254.5">18</text><text x="320.1" y="254.5">31</text><text x="333.5" y="254.5">29</text><text x="346.9" y="254.5">29</text><text x="360.3" y="254.5">29</text><text x="373.7" y="254.5">38</text><text x="387.1" y="254.5">35</text><text x="400.5" y="254.5">33</text><text x="413.9" y="254.5">32</text><text x="427.3" y="254.5">31</text><text x="440.7" y="254.5">34</text><text x="454.1" y="254.5">40</text><text x="467.5" y="254.5">39</text><text x="480.9" y="254.5">43</text><text x="494.3" y="254.5">45</text><text x="507.7" y="254.5">43</text><text x="521.1" y="254.5">46</text><text x="534.6" y="254.5">42</text><text x="548" y="254.5">46</text><text x="561.4" y="254.5">46</text><text x="574.8" y="254.5">36</text><text x="588.2" y="254.5">31</text><text x="601.6" y="254.5">19</text><text x="735.6" y="254.5">34</text><text x="749" y="254.5">34</text><text x="762.4" y="254.5">37</text><text x="775.8" y="254.5">39</text><text x="789.3" y="254.5">35</text><text x="802.7" y="254.5">35</text><text x="816.1" y="254.5">35</text><text x="829.5" y="254.5">35</text><text x="842.9" y="254.5">37</text><text x="856.3" y="254.5">39</text><text x="869.7" y="254.5">39</text><text x="883.1" y="254.5">37</text><text x="896.5" y="254.5">31</text><text x="909.9" y="254.5">34</text><text x="923.3" y="254.5">39</text><text x="936.7" y="254.5">32</text><text x="950.1" y="254.5">24</text><text x="963.5" y="254.5">22</text><text x="976.9" y="254.5">25</text><text x="990.3" y="254.5">38</text><text x="1003.7" y="254.5">16</text><text x="51.2" y="268.8">6</text><text x="65.4" y="268.8">11</text><text x="279.8" y="268.8">33</text><text x="293.3" y="268.8">37</text><text x="306.7" y="268.8">34</text><text x="320.1" y="268.8">38</text><text x="333.5" y="268.8">35</text><text x="346.9" y="268.8">40</text><text x="360.3" y="268.8">42</text><text x="373.7" y="268.8">39</text><text x="387.1" y="268.8">37</text><text x="400.5" y="268.8">38</text><text x="413.9" y="268.8">41</text><text x="427.3" y="268.8">37</text><text x="440.7" y="268.8">45</text><text x="454.1" y="268.8">43</text><text x="467.5" y="268.8">42</text><text x="480.9" y="268.8">46</text><text x="494.3" y="268.8">44</text><text x="507.7" y="268.8">48</text><text x="521.1" y="268.8">49</text><text x="534.6" y="268.8">45</text><text x="548" y="268.8">44</text><text x="561.4" y="268.8">44</text><text x="574.8" y="268.8">38</text><text x="588.2" y="268.8">29</text><text x="601.6" y="268.8">19</text><text x="722.2" y="268.8">38</text><text x="735.6" y="268.8">35</text><text x="749" y="268.8">36</text><text x="762.4" y="268.8">37</text><text x="775.8" y="268.8">36</text><text x="789.3" y="268.8">33</text><text x="802.7" y="268.8">33</text><text x="816.1" y="268.8">31</text><text x="829.5" y="268.8">32</text><text x="842.9" y="268.8">34</text><text x="856.3" y="268.8">36</text><text x="869.7" y="268.8">35</text><text x="883.1" y="268.8">32</text><text x="896.5" y="268.8">26</text><text x="909.9" y="268.8">21</text><text x="923.3" y="268.8">23</text><text x="936.7" y="268.8">24</text><text x="950.1" y="268.8">19</text><text x="963.5" y="268.8">15</text><text x="976.9" y="268.8">12</text><text x="989.6" y="268.8">9</text><text x="1003" y="268.8">7</text><text x="51.2" y="283">5</text><text x="64.6" y="283">8</text><text x="293.3" y="283">31</text><text x="306.7" y="283">40</text><text x="320.1" y="283">39</text><text x="333.5" y="283">39</text><text x="346.9" y="283">42</text><text x="360.3" y="283">42</text><text x="373.7" y="283">37</text><text x="387.1" y="283">39</text><text x="400.5" y="283">36</text><text x="413.9" y="283">44</text><text x="427.3" y="283">36</text><text x="440.7" y="283">38</text><text x="454.1" y="283">42</text><text x="467.5" y="283">39</text><text x="480.9" y="283">44</text><text x="494.3" y="283">44</text><text x="507.7" y="283">43</text><text x="521.1" y="283">43</text><text x="534.6" y="283">42</text><text x="548" y="283">41</text><text x="561.4" y="283">27</text><text x="574.8" y="283">37</text><text x="588.2" y="283">30</text><text x="601.6" y="283">20</text><text x="615" y="283">16</text><text x="695.4" y="283">41</text><text x="708.8" y="283">37</text><text x="722.2" y="283">39</text><text x="735.6" y="283">39</text><text x="749" y="283">37</text><text x="762.4" y="283">35</text><text x="775.8" y="283">29</text><text x="789.3" y="283">28</text><text x="802.7" y="283">28</text><text x="816.1" y="283">29</text><text x="829.5" y="283">27</text><text x="842.9" y="283">29</text><text x="856.3" y="283">32</text><text x="869.7" y="283">29</text><text x="883.1" y="283">27</text><text x="896.5" y="283">24</text><text x="909.9" y="283">23</text><text x="963.5" y="283">15</text><text x="976.2" y="283">9</text><text x="989.6" y="283">7</text><text x="1003" y="283">5</text><text x="51.2" y="297.3">2</text><text x="64.6" y="297.3">4</text><text x="91.4" y="297.3">7</text><text x="105.6" y="297.3">10</text><text x="119" y="297.3">14</text><text x="293.3" y="297.3">36</text><text x="306.7" y="297.3">35</text><text x="320.1" y="297.3">40</text><text x="333.5" y="297.3">45</text><text x="346.9" y="297.3">41</text><text x="360.3" y="297.3">43</text><text x="373.7" y="297.3">37</text><text x="387.1" y="297.3">39</text><text x="400.5" y="297.3">38</text><text x="413.9" y="297.3">38</text><text x="427.3" y="297.3">40</text><text x="440.7" y="297.3">36</text><text x="454.1" y="297.3">35</text><text x="467.5" y="297.3">35</text><text x="480.9" y="297.3">39</text><text x="494.3" y="297.3">43</text><text x="507.7" y="297.3">41</text><text x="521.1" y="297.3">39</text><text x="534.6" y="297.3">36</text><text x="548" y="297.3">39</text><text x="561.4" y="297.3">35</text><text x="574.8" y="297.3">36</text><text x="588.2" y="297.3">38</text><text x="601.6" y="297.3">33</text><text x="615" y="297.3">29</text><text x="628.4" y="297.3">28</text><text x="668.6" y="297.3">34</text><text x="682" y="297.3">35</text><text x="695.4" y="297.3">38</text><text x="708.8" y="297.3">40</text><text x="722.2" y="297.3">41</text><text x="735.6" y="297.3">37</text><text x="749" y="297.3">35</text><text x="762.4" y="297.3">26</text><text x="775.8" y="297.3">24</text><text x="789.3" y="297.3">25</text><text x="802.7" y="297.3">27</text><text x="816.1" y="297.3">27</text><text x="829.5" y="297.3">25</text><text x="842.9" y="297.3">27</text><text x="856.3" y="297.3">25</text><text x="869.7" y="297.3">23</text><text x="883.1" y="297.3">22</text><text x="896.5" y="297.3">24</text><text x="65.4" y="311.6">13</text><text x="119" y="311.6">21</text><text x="132.4" y="311.6">28</text><text x="145.8" y="311.6">33</text><text x="159.2" y="311.6">36</text><text x="199.4" y="311.6">47</text><text x="212.8" y="311.6">47</text><text x="253" y="311.6">39</text><text x="266.4" y="311.6">38</text><text x="279.8" y="311.6">35</text><text x="293.3" y="311.6">36</text><text x="306.7" y="311.6">37</text><text x="320.1" y="311.6">41</text><text x="333.5" y="311.6">43</text><text x="346.9" y="311.6">38</text><text x="360.3" y="311.6">42</text><text x="373.7" y="311.6">34</text><text x="387.1" y="311.6">30</text><text x="400.5" y="311.6">30</text><text x="413.9" y="311.6">34</text><text x="427.3" y="311.6">32</text><text x="440.7" y="311.6">37</text><text x="454.1" y="311.6">37</text><text x="467.5" y="311.6">34</text><text x="480.9" y="311.6">36</text><text x="494.3" y="311.6">32</text><text x="507.7" y="311.6">31</text><text x="521.1" y="311.6">35</text><text x="534.6" y="311.6">38</text><text x="548" y="311.6">46</text><text x="561.4" y="311.6">51</text><text x="574.8" y="311.6">42</text><text x="588.2" y="311.6">33</text><text x="601.6" y="311.6">37</text><text x="615" y="311.6">32</text><text x="628.4" y="311.6">30</text><text x="641.8" y="311.6">41</text><text x="668.6" y="311.6">37</text><text x="682" y="311.6">37</text><text x="695.4" y="311.6">38</text><text x="708.8" y="311.6">41</text><text x="722.2" y="311.6">38</text><text x="735.6" y="311.6">35</text><text x="749" y="311.6">31</text><text x="762.4" y="311.6">25</text><text x="775.8" y="311.6">25</text><text x="789.3" y="311.6">26</text><text x="802.7" y="311.6">26</text><text x="816.1" y="311.6">29</text><text x="829.5" y="311.6">30</text><text x="842.9" y="311.6">31</text><text x="856.3" y="311.6">31</text><text x="869.7" y="311.6">26</text><text x="883.1" y="311.6">18</text><text x="65.4" y="325.9">29</text><text x="78.8" y="325.9">34</text><text x="105.6" y="325.9">27</text><text x="119" y="325.9">23</text><text x="132.4" y="325.9">29</text><text x="145.8" y="325.9">40</text><text x="159.2" y="325.9">41</text><text x="186" y="325.9">48</text><text x="199.4" y="325.9">48</text><text x="212.8" y="325.9">49</text><text x="226.2" y="325.9">48</text><text x="253" y="325.9">46</text><text x="266.4" y="325.9">39</text><text x="279.8" y="325.9">40</text><text x="293.3" y="325.9">40</text><text x="306.7" y="325.9">41</text><text x="320.1" y="325.9">45</text><text x="333.5" y="325.9">43</text><text x="346.9" y="325.9">41</text><text x="360.3" y="325.9">42</text><text x="373.7" y="325.9">33</text><text x="387.1" y="325.9">30</text><text x="400.5" y="325.9">32</text><text x="413.9" y="325.9">33</text><text x="427.3" y="325.9">31</text><text x="440.7" y="325.9">35</text><text x="454.1" y="325.9">35</text><text x="467.5" y="325.9">32</text><text x="480.9" y="325.9">35</text><text x="494.3" y="325.9">36</text><text x="507.7" y="325.9">38</text><text x="521.1" y="325.9">39</text><text x="534.6" y="325.9">42</text><text x="548" y="325.9">41</text><text x="561.4" y="325.9">39</text><text x="574.8" y="325.9">41</text><text x="588.2" y="325.9">43</text><text x="601.6" y="325.9">45</text><text x="615" y="325.9">40</text><text x="628.4" y="325.9">41</text><text x="641.8" y="325.9">47</text><text x="655.2" y="325.9">54</text><text x="668.6" y="325.9">54</text><text x="682" y="325.9">46</text><text x="695.4" y="325.9">45</text><text x="708.8" y="325.9">38</text><text x="722.2" y="325.9">37</text><text x="735.6" y="325.9">35</text><text x="749" y="325.9">30</text><text x="762.4" y="325.9">28</text><text x="775.8" y="325.9">25</text><text x="789.3" y="325.9">26</text><text x="802.7" y="325.9">31</text><text x="816.1" y="325.9">35</text><text x="829.5" y="325.9">37</text><text x="842.9" y="325.9">33</text><text x="856.3" y="325.9">30</text><text x="869.7" y="325.9">30</text><text x="883.1" y="325.9">24</text><text x="78.8" y="340.2">37</text><text x="92.2" y="340.2">25</text><text x="105.6" y="340.2">19</text><text x="119" y="340.2">20</text><text x="132.4" y="340.2">26</text><text x="145.8" y="340.2">34</text><text x="159.2" y="340.2">38</text><text x="172.6" y="340.2">42</text><text x="186" y="340.2">44</text><text x="199.4" y="340.2">42</text><text x="212.8" y="340.2">48</text><text x="226.2" y="340.2">55</text><text x="239.6" y="340.2">59</text><text x="253" y="340.2">41</text><text x="266.4" y="340.2">41</text><text x="279.8" y="340.2">42</text><text x="293.3" y="340.2">42</text><text x="306.7" y="340.2">45</text><text x="320.1" y="340.2">47</text><text x="333.5" y="340.2">47</text><text x="346.9" y="340.2">47</text><text x="360.3" y="340.2">48</text><text x="373.7" y="340.2">45</text><text x="387.1" y="340.2">43</text><text x="400.5" y="340.2">30</text><text x="413.9" y="340.2">31</text><text x="427.3" y="340.2">33</text><text x="440.7" y="340.2">38</text><text x="454.1" y="340.2">41</text><text x="467.5" y="340.2">41</text><text x="480.9" y="340.2">45</text><text x="494.3" y="340.2">35</text><text x="507.7" y="340.2">35</text><text x="521.1" y="340.2">41</text><text x="534.6" y="340.2">40</text><text x="548" y="340.2">42</text><text x="561.4" y="340.2">47</text><text x="574.8" y="340.2">50</text><text x="588.2" y="340.2">43</text><text x="601.6" y="340.2">40</text><text x="615" y="340.2">44</text><text x="628.4" y="340.2">40</text><text x="641.8" y="340.2">45</text><text x="655.2" y="340.2">48</text><text x="668.6" y="340.2">53</text><text x="682" y="340.2">55</text><text x="695.4" y="340.2">59</text><text x="708.8" y="340.2">46</text><text x="722.2" y="340.2">39</text><text x="735.6" y="340.2">28</text><text x="749" y="340.2">27</text><text x="762.4" y="340.2">31</text><text x="775.8" y="340.2">28</text><text x="789.3" y="340.2">32</text><text x="802.7" y="340.2">35</text><text x="816.1" y="340.2">36</text><text x="829.5" y="340.2">32</text><text x="842.9" y="340.2">35</text><text x="856.3" y="340.2">36</text><text x="869.7" y="340.2">37</text><text x="883.1" y="340.2">38</text><text x="92.2" y="354.4">17</text><text x="105.6" y="354.4">15</text><text x="119" y="354.4">19</text><text x="132.4" y="354.4">24</text><text x="145.8" y="354.4">30</text><text x="159.2" y="354.4">36</text><text x="172.6" y="354.4">44</text><text x="186" y="354.4">44</text><text x="199.4" y="354.4">48</text><text x="212.8" y="354.4">54</text><text x="226.2" y="354.4">61</text><text x="239.6" y="354.4">56</text><text x="253" y="354.4">45</text><text x="266.4" y="354.4">43</text><text x="279.8" y="354.4">47</text><text x="293.3" y="354.4">50</text><text x="306.7" y="354.4">51</text><text x="320.1" y="354.4">56</text><text x="333.5" y="354.4">61</text><text x="346.9" y="354.4">51</text><text x="360.3" y="354.4">51</text><text x="373.7" y="354.4">52</text><text x="387.1" y="354.4">48</text><text x="400.5" y="354.4">46</text><text x="413.9" y="354.4">39</text><text x="427.3" y="354.4">49</text><text x="440.7" y="354.4">56</text><text x="454.1" y="354.4">57</text><text x="467.5" y="354.4">53</text><text x="480.9" y="354.4">57</text><text x="494.3" y="354.4">47</text><text x="507.7" y="354.4">55</text><text x="521.1" y="354.4">48</text><text x="534.6" y="354.4">43</text><text x="548" y="354.4">39</text><text x="561.4" y="354.4">43</text><text x="574.8" y="354.4">57</text><text x="588.2" y="354.4">40</text><text x="601.6" y="354.4">54</text><text x="615" y="354.4">48</text><text x="628.4" y="354.4">54</text><text x="641.8" y="354.4">52</text><text x="655.2" y="354.4">53</text><text x="668.6" y="354.4">56</text><text x="682" y="354.4">58</text><text x="695.4" y="354.4">61</text><text x="708.8" y="354.4">64</text><text x="722.2" y="354.4">55</text><text x="775.8" y="354.4">38</text><text x="789.3" y="354.4">44</text><text x="802.7" y="354.4">45</text><text x="816.1" y="354.4">53</text><text x="829.5" y="354.4">52</text><text x="842.9" y="354.4">47</text><text x="856.3" y="354.4">47</text><text x="869.7" y="354.4">48</text><text x="883.1" y="354.4">49</text><text x="896.5" y="354.4">45</text><text x="909.9" y="354.4">45</text><text x="923.3" y="354.4">52</text><text x="936.7" y="354.4">50</text><text x="950.1" y="354.4">60</text><text x="78.8" y="368.7">27</text><text x="92.2" y="368.7">25</text><text x="105.6" y="368.7">25</text><text x="119" y="368.7">27</text><text x="132.4" y="368.7">34</text><text x="145.8" y="368.7">38</text><text x="159.2" y="368.7">34</text><text x="172.6" y="368.7">35</text><text x="186" y="368.7">44</text><text x="199.4" y="368.7">51</text><text x="212.8" y="368.7">55</text><text x="226.2" y="368.7">61</text><text x="239.6" y="368.7">54</text><text x="253" y="368.7">47</text><text x="266.4" y="368.7">42</text><text x="279.8" y="368.7">49</text><text x="293.3" y="368.7">49</text><text x="306.7" y="368.7">52</text><text x="320.1" y="368.7">65</text><text x="333.5" y="368.7">65</text><text x="346.9" y="368.7">57</text><text x="360.3" y="368.7">50</text><text x="373.7" y="368.7">49</text><text x="387.1" y="368.7">52</text><text x="400.5" y="368.7">50</text><text x="413.9" y="368.7">35</text><text x="427.3" y="368.7">48</text><text x="440.7" y="368.7">38</text><text x="454.1" y="368.7">48</text><text x="467.5" y="368.7">39</text><text x="480.9" y="368.7">30</text><text x="494.3" y="368.7">42</text><text x="507.7" y="368.7">32</text><text x="521.1" y="368.7">36</text><text x="534.6" y="368.7">28</text><text x="548" y="368.7">30</text><text x="561.4" y="368.7">30</text><text x="574.8" y="368.7">33</text><text x="588.2" y="368.7">37</text><text x="601.6" y="368.7">41</text><text x="615" y="368.7">39</text><text x="628.4" y="368.7">40</text><text x="641.8" y="368.7">40</text><text x="655.2" y="368.7">31</text><text x="668.6" y="368.7">44</text><text x="682" y="368.7">51</text><text x="695.4" y="368.7">57</text><text x="708.8" y="368.7">61</text><text x="722.2" y="368.7">61</text><text x="789.3" y="368.7">43</text><text x="802.7" y="368.7">42</text><text x="816.1" y="368.7">39</text><text x="829.5" y="368.7">33</text><text x="842.9" y="368.7">28</text><text x="856.3" y="368.7">34</text><text x="869.7" y="368.7">28</text><text x="883.1" y="368.7">30</text><text x="896.5" y="368.7">35</text><text x="909.9" y="368.7">41</text><text x="923.3" y="368.7">47</text><text x="936.7" y="368.7">51</text><text x="950.1" y="368.7">53</text><text x="78.8" y="383">21</text><text x="92.2" y="383">29</text><text x="105.6" y="383">32</text><text x="119" y="383">31</text><text x="132.4" y="383">42</text><text x="145.8" y="383">42</text><text x="159.2" y="383">45</text><text x="172.6" y="383">41</text><text x="186" y="383">45</text><text x="199.4" y="383">52</text><text x="212.8" y="383">53</text><text x="226.2" y="383">52</text><text x="253" y="383">43</text><text x="266.4" y="383">34</text><text x="279.8" y="383">53</text><text x="306.7" y="383">46</text><text x="320.1" y="383">54</text><text x="333.5" y="383">58</text><text x="346.9" y="383">48</text><text x="360.3" y="383">50</text><text x="373.7" y="383">50</text><text x="387.1" y="383">40</text><text x="400.5" y="383">34</text><text x="413.9" y="383">32</text><text x="427.3" y="383">43</text><text x="440.7" y="383">43</text><text x="454.1" y="383">33</text><text x="467.5" y="383">37</text><text x="480.9" y="383">30</text><text x="494.3" y="383">28</text><text x="507.7" y="383">23</text><text x="521.1" y="383">27</text><text x="548" y="383">25</text><text x="588.2" y="383">25</text><text x="601.6" y="383">19</text><text x="615" y="383">21</text><text x="628.4" y="383">25</text><text x="641.8" y="383">32</text><text x="655.2" y="383">39</text><text x="668.6" y="383">38</text><text x="682" y="383">41</text><text x="695.4" y="383">44</text><text x="708.8" y="383">52</text><text x="802.7" y="383">45</text><text x="816.1" y="383">33</text><text x="829.5" y="383">31</text><text x="842.9" y="383">24</text><text x="856.3" y="383">24</text><text x="869.7" y="383">18</text><text x="883.1" y="383">19</text><text x="896.5" y="383">15</text><text x="909.9" y="383">21</text><text x="923.3" y="383">23</text><text x="936.7" y="383">32</text><text x="950.1" y="383">40</text><text x="78.8" y="397.3">27</text><text x="92.2" y="397.3">28</text><text x="105.6" y="397.3">30</text><text x="119" y="397.3">29</text><text x="132.4" y="397.3">40</text><text x="145.8" y="397.3">35</text><text x="159.2" y="397.3">38</text><text x="172.6" y="397.3">44</text><text x="186" y="397.3">38</text><text x="199.4" y="397.3">48</text><text x="212.8" y="397.3">49</text><text x="226.2" y="397.3">50</text><text x="239.6" y="397.3">34</text><text x="253" y="397.3">36</text><text x="266.4" y="397.3">26</text><text x="279.8" y="397.3">28</text><text x="293.3" y="397.3">30</text><text x="306.7" y="397.3">31</text><text x="320.1" y="397.3">32</text><text x="333.5" y="397.3">37</text><text x="360.3" y="397.3">48</text><text x="373.7" y="397.3">47</text><text x="387.1" y="397.3">49</text><text x="400.5" y="397.3">46</text><text x="413.9" y="397.3">37</text><text x="427.3" y="397.3">43</text><text x="440.7" y="397.3">40</text><text x="454.1" y="397.3">38</text><text x="467.5" y="397.3">41</text><text x="480.9" y="397.3">32</text><text x="494.3" y="397.3">35</text><text x="507.7" y="397.3">22</text><text x="521.1" y="397.3">26</text><text x="534.6" y="397.3">25</text><text x="548" y="397.3">27</text><text x="561.4" y="397.3">21</text><text x="574.8" y="397.3">20</text><text x="588.2" y="397.3">20</text><text x="601.6" y="397.3">17</text><text x="615" y="397.3">18</text><text x="628.4" y="397.3">31</text><text x="641.8" y="397.3">30</text><text x="655.2" y="397.3">40</text><text x="668.6" y="397.3">45</text><text x="682" y="397.3">46</text><text x="695.4" y="397.3">45</text><text x="708.8" y="397.3">23</text><text x="722.2" y="397.3">36</text><text x="829.5" y="397.3">35</text><text x="842.9" y="397.3">31</text><text x="856.3" y="397.3">25</text><text x="869.7" y="397.3">32</text><text x="883.1" y="397.3">28</text><text x="896.5" y="397.3">26</text><text x="909.9" y="397.3">25</text><text x="923.3" y="397.3">29</text><text x="936.7" y="397.3">30</text><text x="950.1" y="397.3">31</text><text x="963.5" y="397.3">19</text><text x="78.8" y="411.5">25</text><text x="92.2" y="411.5">34</text><text x="105.6" y="411.5">35</text><text x="119" y="411.5">32</text><text x="132.4" y="411.5">29</text><text x="145.8" y="411.5">34</text><text x="159.2" y="411.5">37</text><text x="172.6" y="411.5">35</text><text x="186" y="411.5">41</text><text x="199.4" y="411.5">42</text><text x="212.8" y="411.5">49</text><text x="226.2" y="411.5">46</text><text x="239.6" y="411.5">34</text><text x="253" y="411.5">32</text><text x="266.4" y="411.5">21</text><text x="279.8" y="411.5">20</text><text x="293.3" y="411.5">14</text><text x="305.9" y="411.5">9</text><text x="320.1" y="411.5">19</text><text x="333.5" y="411.5">26</text><text x="346.9" y="411.5">31</text><text x="360.3" y="411.5">32</text><text x="373.7" y="411.5">40</text><text x="387.1" y="411.5">42</text><text x="400.5" y="411.5">40</text><text x="413.9" y="411.5">38</text><text x="440.7" y="411.5">45</text><text x="454.1" y="411.5">46</text><text x="467.5" y="411.5">40</text><text x="480.9" y="411.5">35</text><text x="494.3" y="411.5">31</text><text x="507.7" y="411.5">28</text><text x="521.1" y="411.5">27</text><text x="534.6" y="411.5">26</text><text x="548" y="411.5">23</text><text x="561.4" y="411.5">25</text><text x="574.8" y="411.5">23</text><text x="588.2" y="411.5">19</text><text x="601.6" y="411.5">21</text><text x="615" y="411.5">23</text><text x="628.4" y="411.5">29</text><text x="641.8" y="411.5">35</text><text x="655.2" y="411.5">37</text><text x="708.8" y="411.5">27</text><text x="722.2" y="411.5">43</text><text x="829.5" y="411.5">34</text><text x="842.9" y="411.5">30</text><text x="856.3" y="411.5">22</text><text x="869.7" y="411.5">31</text><text x="883.1" y="411.5">37</text><text x="896.5" y="411.5">40</text><text x="909.9" y="411.5">33</text><text x="923.3" y="411.5">28</text><text x="936.7" y="411.5">31</text><text x="950.1" y="411.5">40</text><text x="963.5" y="411.5">29</text><text x="65.4" y="425.8">20</text><text x="78.8" y="425.8">21</text><text x="105.6" y="425.8">31</text><text x="119" y="425.8">33</text><text x="132.4" y="425.8">31</text><text x="145.8" y="425.8">34</text><text x="159.2" y="425.8">41</text><text x="172.6" y="425.8">33</text><text x="186" y="425.8">40</text><text x="199.4" y="425.8">37</text><text x="212.8" y="425.8">41</text><text x="226.2" y="425.8">44</text><text x="239.6" y="425.8">41</text><text x="253" y="425.8">34</text><text x="266.4" y="425.8">29</text><text x="279.8" y="425.8">18</text><text x="292.5" y="425.8">9</text><text x="360.3" y="425.8">24</text><text x="373.7" y="425.8">33</text><text x="387.1" y="425.8">29</text><text x="400.5" y="425.8">41</text><text x="413.9" y="425.8">44</text><text x="427.3" y="425.8">37</text><text x="440.7" y="425.8">46</text><text x="454.1" y="425.8">41</text><text x="467.5" y="425.8">41</text><text x="480.9" y="425.8">32</text><text x="494.3" y="425.8">33</text><text x="507.7" y="425.8">35</text><text x="521.1" y="425.8">35</text><text x="534.6" y="425.8">30</text><text x="548" y="425.8">31</text><text x="561.4" y="425.8">32</text><text x="574.8" y="425.8">31</text><text x="588.2" y="425.8">36</text><text x="601.6" y="425.8">28</text><text x="615" y="425.8">24</text><text x="628.4" y="425.8">33</text><text x="641.8" y="425.8">30</text><text x="655.2" y="425.8">27</text><text x="708.8" y="425.8">24</text><text x="722.2" y="425.8">23</text><text x="735.6" y="425.8">32</text><text x="829.5" y="425.8">34</text><text x="842.9" y="425.8">30</text><text x="856.3" y="425.8">20</text><text x="869.7" y="425.8">35</text><text x="883.1" y="425.8">36</text><text x="896.5" y="425.8">32</text><text x="909.9" y="425.8">43</text><text x="923.3" y="425.8">40</text><text x="936.7" y="425.8">26</text><text x="950.1" y="425.8">24</text><text x="963.5" y="425.8">37</text><text x="65.4" y="440.1">18</text><text x="78.8" y="440.1">12</text><text x="92.2" y="440.1">34</text><text x="105.6" y="440.1">29</text><text x="119" y="440.1">31</text><text x="132.4" y="440.1">35</text><text x="145.8" y="440.1">32</text><text x="159.2" y="440.1">32</text><text x="172.6" y="440.1">42</text><text x="186" y="440.1">32</text><text x="199.4" y="440.1">32</text><text x="212.8" y="440.1">39</text><text x="226.2" y="440.1">37</text><text x="239.6" y="440.1">36</text><text x="253" y="440.1">33</text><text x="266.4" y="440.1">24</text><text x="279.8" y="440.1">16</text><text x="360.3" y="440.1">17</text><text x="373.7" y="440.1">25</text><text x="387.1" y="440.1">29</text><text x="400.5" y="440.1">38</text><text x="413.9" y="440.1">38</text><text x="427.3" y="440.1">35</text><text x="440.7" y="440.1">42</text><text x="454.1" y="440.1">39</text><text x="467.5" y="440.1">41</text><text x="480.9" y="440.1">31</text><text x="494.3" y="440.1">36</text><text x="507.7" y="440.1">37</text><text x="521.1" y="440.1">45</text><text x="534.6" y="440.1">32</text><text x="548" y="440.1">30</text><text x="561.4" y="440.1">27</text><text x="574.8" y="440.1">33</text><text x="588.2" y="440.1">30</text><text x="601.6" y="440.1">31</text><text x="615" y="440.1">26</text><text x="628.4" y="440.1">30</text><text x="695.4" y="440.1">33</text><text x="708.8" y="440.1">30</text><text x="735.6" y="440.1">31</text><text x="802.7" y="440.1">38</text><text x="816.1" y="440.1">35</text><text x="829.5" y="440.1">37</text><text x="842.9" y="440.1">29</text><text x="856.3" y="440.1">39</text><text x="896.5" y="440.1">34</text><text x="909.9" y="440.1">36</text><text x="923.3" y="440.1">41</text><text x="936.7" y="440.1">33</text><text x="950.1" y="440.1">22</text><text x="963.5" y="440.1">19</text><text x="52" y="454.4">15</text><text x="65.4" y="454.4">18</text><text x="78.8" y="454.4">25</text><text x="92.2" y="454.4">29</text><text x="105.6" y="454.4">33</text><text x="119" y="454.4">37</text><text x="132.4" y="454.4">33</text><text x="145.8" y="454.4">38</text><text x="159.2" y="454.4">28</text><text x="172.6" y="454.4">37</text><text x="186" y="454.4">39</text><text x="199.4" y="454.4">43</text><text x="212.8" y="454.4">32</text><text x="226.2" y="454.4">33</text><text x="239.6" y="454.4">35</text><text x="253" y="454.4">36</text><text x="266.4" y="454.4">25</text><text x="373.7" y="454.4">27</text><text x="387.1" y="454.4">31</text><text x="400.5" y="454.4">32</text><text x="413.9" y="454.4">34</text><text x="427.3" y="454.4">39</text><text x="440.7" y="454.4">38</text><text x="454.1" y="454.4">39</text><text x="467.5" y="454.4">39</text><text x="480.9" y="454.4">37</text><text x="494.3" y="454.4">38</text><text x="507.7" y="454.4">33</text><text x="521.1" y="454.4">45</text><text x="534.6" y="454.4">27</text><text x="548" y="454.4">39</text><text x="561.4" y="454.4">35</text><text x="574.8" y="454.4">37</text><text x="588.2" y="454.4">32</text><text x="601.6" y="454.4">34</text><text x="615" y="454.4">40</text><text x="641.8" y="454.4">34</text><text x="695.4" y="454.4">25</text><text x="708.8" y="454.4">24</text><text x="722.2" y="454.4">30</text><text x="735.6" y="454.4">29</text><text x="802.7" y="454.4">33</text><text x="816.1" y="454.4">30</text><text x="829.5" y="454.4">37</text><text x="842.9" y="454.4">35</text><text x="856.3" y="454.4">32</text><text x="869.7" y="454.4">44</text><text x="883.1" y="454.4">47</text><text x="896.5" y="454.4">33</text><text x="909.9" y="454.4">40</text><text x="923.3" y="454.4">39</text><text x="936.7" y="454.4">36</text><text x="950.1" y="454.4">31</text><text x="963.5" y="454.4">18</text><text x="976.9" y="454.4">13</text><text x="52" y="468.7">18</text><text x="65.4" y="468.7">24</text><text x="78.8" y="468.7">23</text><text x="92.2" y="468.7">40</text><text x="105.6" y="468.7">32</text><text x="119" y="468.7">32</text><text x="132.4" y="468.7">36</text><text x="145.8" y="468.7">29</text><text x="159.2" y="468.7">30</text><text x="172.6" y="468.7">29</text><text x="186" y="468.7">27</text><text x="199.4" y="468.7">26</text><text x="212.8" y="468.7">27</text><text x="226.2" y="468.7">33</text><text x="239.6" y="468.7">32</text><text x="253" y="468.7">25</text><text x="266.4" y="468.7">30</text><text x="279.8" y="468.7">27</text><text x="373.7" y="468.7">25</text><text x="387.1" y="468.7">32</text><text x="400.5" y="468.7">32</text><text x="413.9" y="468.7">33</text><text x="427.3" y="468.7">32</text><text x="440.7" y="468.7">34</text><text x="454.1" y="468.7">33</text><text x="467.5" y="468.7">34</text><text x="480.9" y="468.7">30</text><text x="494.3" y="468.7">31</text><text x="507.7" y="468.7">29</text><text x="521.1" y="468.7">32</text><text x="534.6" y="468.7">37</text><text x="548" y="468.7">33</text><text x="695.4" y="468.7">21</text><text x="708.8" y="468.7">30</text><text x="735.6" y="468.7">38</text><text x="789.3" y="468.7">24</text><text x="802.7" y="468.7">27</text><text x="816.1" y="468.7">30</text><text x="829.5" y="468.7">35</text><text x="842.9" y="468.7">34</text><text x="856.3" y="468.7">26</text><text x="869.7" y="468.7">28</text><text x="883.1" y="468.7">36</text><text x="896.5" y="468.7">40</text><text x="909.9" y="468.7">47</text><text x="923.3" y="468.7">31</text><text x="936.7" y="468.7">40</text><text x="950.1" y="468.7">34</text><text x="963.5" y="468.7">26</text><text x="976.9" y="468.7">21</text><text x="990.3" y="468.7">23</text><text x="1003.7" y="468.7">21</text><text x="52" y="482.9">22</text><text x="65.4" y="482.9">29</text><text x="78.8" y="482.9">38</text><text x="92.2" y="482.9">28</text><text x="105.6" y="482.9">34</text><text x="119" y="482.9">33</text><text x="212.8" y="482.9">24</text><text x="226.2" y="482.9">28</text><text x="266.4" y="482.9">29</text><text x="279.8" y="482.9">33</text><text x="293.3" y="482.9">33</text><text x="306.7" y="482.9">34</text><text x="320.1" y="482.9">33</text><text x="333.5" y="482.9">33</text><text x="346.9" y="482.9">35</text><text x="360.3" y="482.9">32</text><text x="373.7" y="482.9">30</text><text x="387.1" y="482.9">35</text><text x="400.5" y="482.9">29</text><text x="413.9" y="482.9">27</text><text x="427.3" y="482.9">23</text><text x="440.7" y="482.9">24</text><text x="454.1" y="482.9">34</text><text x="467.5" y="482.9">30</text><text x="480.9" y="482.9">23</text><text x="494.3" y="482.9">29</text><text x="507.7" y="482.9">30</text><text x="521.1" y="482.9">24</text><text x="695.4" y="482.9">22</text><text x="708.8" y="482.9">17</text><text x="722.2" y="482.9">16</text><text x="735.6" y="482.9">26</text><text x="775.8" y="482.9">35</text><text x="789.3" y="482.9">25</text><text x="802.7" y="482.9">33</text><text x="816.1" y="482.9">34</text><text x="829.5" y="482.9">30</text><text x="896.5" y="482.9">29</text><text x="936.7" y="482.9">41</text><text x="950.1" y="482.9">36</text><text x="963.5" y="482.9">26</text><text x="976.9" y="482.9">29</text><text x="990.3" y="482.9">23</text><text x="1003.7" y="482.9">20</text><text x="360.3" y="497.2">36</text><text x="373.7" y="497.2">33</text><text x="387.1" y="497.2">28</text><text x="400.5" y="497.2">27</text><text x="413.9" y="497.2">31</text><text x="427.3" y="497.2">29</text><text x="440.7" y="497.2">21</text><text x="454.1" y="497.2">16</text><text x="467.5" y="497.2">16</text><text x="641" y="497.2">8</text><text x="695.4" y="497.2">23</text><text x="708.8" y="497.2">20</text><text x="722.2" y="497.2">33</text><text x="762.4" y="497.2">34</text><text x="775.8" y="497.2">27</text><text x="789.3" y="497.2">32</text><text x="802.7" y="497.2">25</text><text x="816.1" y="497.2">13</text><text x="413.9" y="511.5">31</text><text x="427.3" y="511.5">24</text><text x="440.7" y="511.5">18</text><text x="749" y="511.5">26</text><text x="762.4" y="511.5">26</text><text x="775.8" y="511.5">26</text><text x="789.3" y="511.5">23</text><text x="58.6" y="183.1">36</text><text x="85.4" y="183.1">33</text><text x="112.2" y="183.1">39</text><text x="139" y="183.1">25</text><text x="407.1" y="183.1">36</text><text x="434" y="183.1">40</text><text x="460.8" y="183.1">37</text><text x="487.6" y="183.1">39</text><text x="594.8" y="183.1">49</text><text x="621.6" y="183.1">47</text><text x="648.4" y="183.1">49</text><text x="675.3" y="183.1">46</text><text x="702.1" y="183.1">37</text><text x="755.7" y="183.1">40</text><text x="782.5" y="183.1">43</text><text x="836.1" y="183.1">32</text><text x="862.9" y="183.1">42</text><text x="889.8" y="183.1">49</text><text x="916.6" y="183.1">35</text><text x="943.4" y="183.1">49</text><text x="970.2" y="183.1">37</text><text x="58.6" y="197.4">33</text><text x="85.4" y="197.4">31</text><text x="380.3" y="197.4">27</text><text x="407.1" y="197.4">23</text><text x="434" y="197.4">24</text><text x="460.8" y="197.4">30</text><text x="487.6" y="197.4">40</text><text x="514.4" y="197.4">46</text><text x="541.2" y="197.4">36</text><text x="675.3" y="197.4">45</text><text x="702.1" y="197.4">49</text><text x="728.9" y="197.4">43</text><text x="755.7" y="197.4">43</text><text x="782.5" y="197.4">40</text><text x="809.3" y="197.4">36</text><text x="836.1" y="197.4">40</text><text x="862.9" y="197.4">40</text><text x="889.8" y="197.4">45</text><text x="916.6" y="197.4">43</text><text x="943.4" y="197.4">42</text><text x="326.7" y="211.7">23</text><text x="353.5" y="211.7">25</text><text x="380.3" y="211.7">32</text><text x="407.1" y="211.7">28</text><text x="434" y="211.7">25</text><text x="460.8" y="211.7">24</text><text x="487.6" y="211.7">35</text><text x="514.4" y="211.7">34</text><text x="541.2" y="211.7">43</text><text x="568" y="211.7">42</text><text x="675.3" y="211.7">42</text><text x="702.1" y="211.7">46</text><text x="728.9" y="211.7">37</text><text x="755.7" y="211.7">50</text><text x="782.5" y="211.7">33</text><text x="809.3" y="211.7">32</text><text x="836.1" y="211.7">35</text><text x="862.9" y="211.7">38</text><text x="889.8" y="211.7">40</text><text x="916.6" y="211.7">46</text><text x="943.4" y="211.7">40</text><text x="970.2" y="211.7">35</text><text x="997" y="211.7">33</text><text x="326.7" y="225.9">20</text><text x="353.5" y="225.9">26</text><text x="380.3" y="225.9">25</text><text x="407.1" y="225.9">26</text><text x="434" y="225.9">27</text><text x="460.8" y="225.9">30</text><text x="487.6" y="225.9">39</text><text x="514.4" y="225.9">40</text><text x="541.2" y="225.9">38</text><text x="568" y="225.9">43</text><text x="594.8" y="225.9">30</text><text x="782.5" y="225.9">40</text><text x="809.3" y="225.9">32</text><text x="836.1" y="225.9">35</text><text x="862.9" y="225.9">38</text><text x="889.8" y="225.9">41</text><text x="916.6" y="225.9">44</text><text x="943.4" y="225.9">39</text><text x="970.2" y="225.9">34</text><text x="407.1" y="525.8">23</text><text x="434" y="525.8">23</text><text x="755.7" y="525.8">26</text><text x="782.5" y="525.8">33</text><text x="809.3" y="525.8">24</text><text x="836.1" y="525.8">24</text><text x="55.4" y="154.5">44</text><text x="98.8" y="154.5">41</text><text x="152.5" y="154.5">34</text><text x="206.1" y="154.5">33</text><text x="259.7" y="154.5">34</text><text x="367" y="154.5">31</text><text x="420.6" y="154.5">26</text><text x="474.2" y="154.5">27</text><text x="527.8" y="154.5">12</text><text x="581.4" y="154.5">19</text><text x="635.1" y="154.5">32</text><text x="688.7" y="154.5">49</text><text x="742.3" y="154.5">36</text><text x="903.2" y="154.5">35</text><text x="956.8" y="154.5">44</text><text x="1004.5" y="154.5">44</text><text x="55.4" y="168.8">40</text><text x="98.8" y="168.8">38</text><text x="152.5" y="168.8">33</text><text x="206.1" y="168.8">36</text><text x="313.3" y="168.8">37</text><text x="367" y="168.8">26</text><text x="420.6" y="168.8">32</text><text x="474.2" y="168.8">33</text><text x="527.8" y="168.8">36</text><text x="635.1" y="168.8">38</text><text x="688.7" y="168.8">44</text><text x="742.3" y="168.8">39</text><text x="795.9" y="168.8">42</text><text x="849.6" y="168.8">37</text><text x="903.2" y="168.8">40</text><text x="956.8" y="168.8">41</text><text x="1004.5" y="168.8">40</text><text x="125.8" y="140.3">23</text><text x="232" y="140.3">35</text><text x="340" y="140.3">21</text><text x="447.8" y="140.3">20</text><text x="554.8" y="140.3">29</text><text x="661.3" y="140.3">20</text><text x="769.2" y="140.3">34</text><text x="876.3" y="140.3">31</text><text x="984.6" y="140.3">45</text><text x="930.3" y="126">27</text><text x="1060.5" y="126">27</text><text x="1060.5" y="140.3">28</text><text x="1060.5" y="154.5">32</text><text x="1060.5" y="168.8">36</text><text x="1060.5" y="183.1">41</text><text x="1060.5" y="197.4">40</text><text x="1060.5" y="211.7">35</text><text x="1060.5" y="225.9">35</text><text x="1060.5" y="240.2">35</text><text x="1060.5" y="254.5">35</text><text x="1060.5" y="268.8">35</text><text x="1060.5" y="283">33</text><text x="1060.5" y="297.3">34</text><text x="1060.5" y="311.6">34</text><text x="1060.5" y="325.9">37</text><text x="1060.5" y="340.2">40</text><text x="1060.5" y="354.4">48</text><text x="1060.5" y="368.7">42</text><text x="1060.5" y="383">35</text><text x="1060.5" y="397.3">33</text><text x="1060.5" y="411.5">32</text><text x="1060.5" y="425.8">33</text><text x="1060.5" y="440.1">33</text><text x="1060.5" y="454.4">34</text><text x="1060.5" y="468.7">31</text><text x="1060.5" y="482.9">29</text><text x="1060.5" y="497.2">25</text><text x="1060.5" y="511.5">24</text><text x="1060.5" y="525.8">26</text></g></svg>
<div class="t1">Altocumulus</div>
<div class="t2">Frequency of Occurrence (%)</div>
<div class="s" style="left:44.6px;top:87.8px">June, July, August (1954 - 1997) Night</div>
<div class="s" style="left:790.6px;top:87.8px">Ship Observations Only</div>
<div style="left:959.9px;top:89.2px;font-size:9px;letter-spacing:0.35px">ZONAL</div>
<div style="left:954.4px;top:102.9px;font-size:9px;letter-spacing:0.35px">AVERAGE</div>
<div class="ax" style="left:0px;top:110.2px;width:28.8px;text-align:right">90°N</div><div class="ax" style="left:0px;top:195.9px;width:28.8px;text-align:right">60°N</div><div class="ax" style="left:0px;top:281.5px;width:28.8px;text-align:right">30°N</div><div class="ax" style="left:0px;top:367.2px;width:28.8px;text-align:right">0°</div><div class="ax" style="left:0px;top:452.9px;width:28.8px;text-align:right">30°S</div><div class="ax" style="left:0px;top:538.5px;width:28.8px;text-align:right">60°S</div><div class="ax" style="left:0px;top:624.2px;width:28.8px;text-align:right">90°S</div><div class="ax" style="left:34.5px;top:645.2px;">30°E</div><div class="ax" style="left:107.3px;top:645.2px;">60°E</div><div class="ax" style="left:181.2px;top:645.2px;">90°E</div><div class="ax" style="left:251.5px;top:645.2px;">120°E</div><div class="ax" style="left:324.5px;top:645.2px;">150°E</div><div class="ax" style="left:401px;top:645.2px;">180°</div><div class="ax" style="left:469.2px;top:645.2px;">150°W</div><div class="ax" style="left:542.1px;top:645.2px;">120°W</div><div class="ax" style="left:619.6px;top:645.2px;">90°W</div><div class="ax" style="left:692.6px;top:645.2px;">60°W</div><div class="ax" style="left:765.9px;top:645.2px;">30°W</div><div class="ax" style="left:847.3px;top:645.2px;">0°</div><div class="ax" style="left:914.2px;top:645.2px;">30°E</div>
<div style="left:391.5px;top:676.8px;font-size:10.75px;white-space:pre">GLOBAL AVERAGE (OCEAN)   33.8 %</div>
<div style="left:244.6px;top:707.9px;font-size:13.23px">(File name = 14_OMSF.43.mh, MGRP = 14032, TYPE = 23, PCODE = 2, SN = 43)</div>
</body></html>
